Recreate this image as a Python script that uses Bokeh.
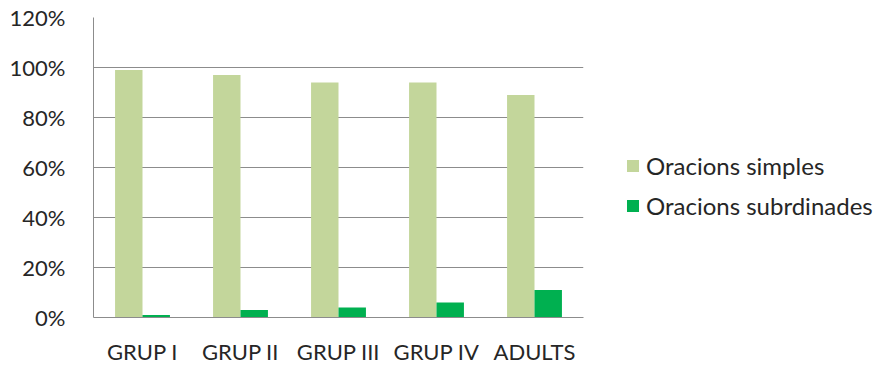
from bokeh.plotting import figure
from bokeh.models import (ColumnDataSource, Range1d, FixedTicker, NumeralTickFormatter,
                          Legend, LegendItem)
from bokeh.embed import file_html
from bokeh.resources import INLINE

# Data
groups = ["GRUP I", "GRUP II", "GRUP III", "GRUP IV", "ADULTS"]
simples = [0.99, 0.97, 0.94, 0.94, 0.89]
subordinades = [0.01, 0.03, 0.04, 0.06, 0.11]
series_names = ["Oracions simples", "Oracions subrdinades"]

FONT = "Lato"
TEXT_COLOR = "#262626"
GRID_COLOR = "#8c8c8c"

centers = [i + 0.5 for i in range(len(groups))]
bar_w = 0.28

src = ColumnDataSource(dict(
    x_simple=[c - bar_w / 2 for c in centers],
    x_sub=[c + bar_w / 2 for c in centers],
    simples=simples,
    subordinades=subordinades,
))

p = figure(frame_width=490, frame_height=300, output_backend="svg",
           toolbar_location=None,
           x_range=Range1d(0, len(groups)), y_range=Range1d(0, 1.2),
           min_border_left=93, min_border_right=296, min_border_top=17,
           min_border_bottom=49)
p.outline_line_color = None
p.background_fill_color = "white"
p.border_fill_color = "white"

r1 = p.vbar(x="x_simple", top="simples", width=bar_w, source=src,
            fill_color="#c3d69b", line_color=None)
r2 = p.vbar(x="x_sub", top="subordinades", width=bar_w, source=src,
            fill_color="#00b050", line_color=None)

# Axes
p.xaxis.ticker = FixedTicker(ticks=centers)
p.xaxis.major_label_overrides = {c: g for c, g in zip(centers, groups)}
p.yaxis.ticker = FixedTicker(ticks=[0, 0.2, 0.4, 0.6, 0.8, 1.0, 1.2])
p.yaxis.formatter = NumeralTickFormatter(format="0%")
for ax in (p.xaxis[0], p.yaxis[0]):
    ax.axis_line_color = GRID_COLOR
    ax.axis_line_width = 1
    ax.major_tick_line_color = None
    ax.minor_tick_line_color = None
    ax.major_label_text_font = FONT
    ax.major_label_text_font_size = "22px"
    ax.major_label_text_color = TEXT_COLOR
p.xaxis.major_label_standoff = 14
p.yaxis.major_label_standoff = 22

p.xgrid.grid_line_color = None
p.ygrid.grid_line_color = GRID_COLOR
p.ygrid.grid_line_width = 1
p.ygrid.ticker = FixedTicker(ticks=[0.2, 0.4, 0.6, 0.8, 1.0, 1.2])

# Legend sits in its own panel to the right of the plot area
legend = Legend(items=[LegendItem(label=series_names[0], renderers=[r1]),
                       LegendItem(label=series_names[1], renderers=[r2])],
                location=(42, 97), orientation="vertical",
                glyph_width=15, glyph_height=15, spacing=11, padding=0,
                margin=0, label_standoff=6, label_text_font=FONT,
                label_text_font_size="24px", label_text_color=TEXT_COLOR,
                border_line_color=None, background_fill_alpha=0)
p.add_layout(legend, "right")

open("out.html", "w").write(file_html(p, INLINE))
